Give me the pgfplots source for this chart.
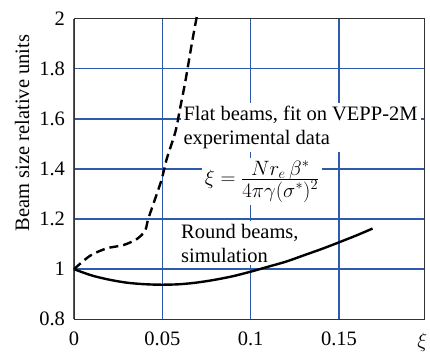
\documentclass[border=0pt]{standalone}
\usepackage{fontspec}
\setmainfont{Liberation Serif}
\newfontfamily\tnr{Liberation Serif}
\usepackage{pgfplots}
\pgfplotsset{compat=1.18}
\definecolor{gridblue}{RGB}{45,90,170}
\begin{document}
\tnr\fontsize{20.5}{23.5}\selectfont
\begin{tikzpicture}[font=\tnr]
\begin{axis}[
  scale only axis,
  width=350.3pt, height=300.8pt,
  xmin=0, xmax=0.1983, ymin=0.8, ymax=2,
  xtick={0,0.05,0.1,0.15}, xticklabels={0,0.05,0.1,0.15},
  ytick={0.8,1,1.2,1.4,1.6,1.8,2}, yticklabels={0.8,1,1.2,1.4,1.6,1.8,2},
  /pgf/number format/assume math mode=true,
  major tick length=0pt,
  grid=major,
  major grid style={gridblue, line width=1.6pt},
  axis line style={black!80, line width=0.9pt},
  tick label style={font=\tnr\fontsize{20.5}{23.5}\selectfont},
  xticklabel style={yshift=-6pt},
  yticklabel style={xshift=-2pt},
  xlabel={$\xi$},
  xlabel style={at={(rel axis cs:1,0)}, anchor=north, xshift=-2pt, yshift=-7pt},
  ylabel={Beam size relative units},
  ylabel style={at={(rel axis cs:0,0.619)}, anchor=center, yshift=52pt, font=\tnr\fontsize{20.5}{23.5}\selectfont},
  clip=false,
]
\node[anchor=north west, fill=white, inner sep=3pt, align=left, font=\tnr\fontsize{20.5}{23.3}\selectfont] at (axis cs:0.0602,1.662) {Flat beams, fit on VEPP-2M\\experimental data};
\node[fill=white, inner sep=3pt, font=\tnr\fontsize{20.5}{23.3}\selectfont] at (axis cs:0.1065,1.35) {$\xi=\frac{\textstyle N r_e\,\beta^*\rule[-3pt]{0pt}{1pt}}{\textstyle 4\pi\gamma(\sigma^*)^2}$};
\node[anchor=north west, fill=white, inner sep=3pt, align=left, font=\tnr\fontsize{20.5}{23.3}\selectfont] at (axis cs:0.0589,1.191) {Round beams,\\simulation};
\addplot[black, line width=2.4pt, dash pattern=on 9pt off 5pt, smooth] coordinates {
(0,1.0) (0.009,1.053) (0.0185,1.083) (0.0279,1.096) (0.0355,1.12) (0.0402,1.153) (0.042,1.20) (0.0459,1.28) (0.0497,1.36) (0.0525,1.44) (0.0574,1.548) (0.060,1.64) (0.063,1.748) (0.0669,1.908) (0.0697,2.015)
};
\addplot[black, line width=2.4pt, smooth] coordinates {
(0,1) (0.01,0.975) (0.02,0.958) (0.03,0.946) (0.04,0.94) (0.05,0.938) (0.06,0.94) (0.07,0.947) (0.08,0.958) (0.09,0.972) (0.1,0.99) (0.11,1.01) (0.12,1.03) (0.13,1.055) (0.14,1.08) (0.15,1.107) (0.16,1.135) (0.169,1.162)
};
\coordinate (ll) at (rel axis cs:0,0);
\coordinate (ur) at (rel axis cs:1,1);
\end{axis}
\pgfresetboundingbox
\path ([xshift=-74pt,yshift=-34.7pt]ll) rectangle ([xshift=5.7pt,yshift=18.5pt]ur);
\end{tikzpicture}
\end{document}
